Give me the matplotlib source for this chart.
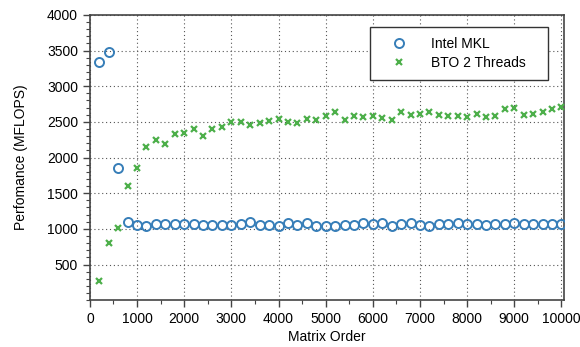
import numpy as np
from matplotlib import pyplot as plt
from matplotlib.ticker import MultipleLocator

plt.rcParams['font.family'] = ['Liberation Sans', 'DejaVu Sans']
plt.rcParams['font.size'] = 10

# matrix orders, 200 .. 10000 step 200
order = list(range(200, 10001, 200))

mkl = [3340, 3480, 1850, 1100, 1060, 1045, 1062, 1062, 1066, 1066,
       1062, 1055, 1055, 1060, 1060, 1063, 1092, 1058, 1058, 1035,
       1078, 1060, 1078, 1042, 1045, 1045, 1047, 1052, 1078, 1070,
       1078, 1045, 1070, 1080, 1052, 1042, 1070, 1070, 1078, 1062,
       1070, 1058, 1066, 1066, 1078, 1066, 1070, 1070, 1062, 1070]

bto = [268, 799, 1012, 1595, 1860, 2153, 2246, 2190, 2325, 2344,
       2395, 2307, 2400, 2423, 2503, 2493, 2460, 2489, 2507, 2539,
       2497, 2484, 2539, 2521, 2581, 2637, 2526, 2577, 2572, 2581,
       2549, 2530, 2640, 2602, 2605, 2642, 2591, 2581, 2581, 2567,
       2609, 2563, 2581, 2679, 2698, 2595, 2609, 2637, 2684, 2702]

blue = '#377eb8'
green = '#4daf4a'
spine_col = '#444444'

fig = plt.figure(figsize=(5.8, 3.47), dpi=100)
ax = fig.add_axes([0.155, 0.135, 0.817, 0.822])

ax.plot(order, mkl, linestyle='none', marker='o', markersize=6.5,
        markerfacecolor='none', markeredgecolor=blue, markeredgewidth=1.4,
        label='Intel MKL', zorder=3)
ax.plot(order, bto, linestyle='none', marker='x', markersize=4.5,
        color=green, markeredgewidth=1.6, label='BTO 2 Threads', zorder=3)

ax.set_xlim(0, 10050)
ax.set_ylim(0, 4000)
ax.set_xticks(range(0, 10001, 1000))
ax.set_yticks(range(500, 4001, 500))
ax.xaxis.set_minor_locator(MultipleLocator(500))
ax.yaxis.set_minor_locator(MultipleLocator(100))
ax.tick_params(which='major', direction='out', length=5, width=1, color=spine_col)
ax.tick_params(which='minor', direction='out', length=3, width=0.8, color=spine_col)
ax.tick_params(top=False, right=False, which='both')
ax.grid(True, which='major', linestyle=(0, (1, 2.5)), color='#555555', linewidth=0.8)
for s in ax.spines.values():
    s.set_color(spine_col)
    s.set_linewidth(1.2)

ax.set_xlabel('Matrix Order', labelpad=3)
ax.set_ylabel('Perfomance (MFLOPS)', labelpad=14)

# legend box spans a fixed width, content left aligned
leg = ax.legend(loc='upper left', bbox_to_anchor=(0.592, 0.759, 0.374, 0.2),
                mode='expand', borderaxespad=0,
                fancybox=False, edgecolor='#333333', framealpha=1,
                handlelength=2.6, handletextpad=1.0, borderpad=0.75,
                labelspacing=0.35)
leg.get_frame().set_linewidth(1.0)

fig.savefig('out.png', dpi=100)
